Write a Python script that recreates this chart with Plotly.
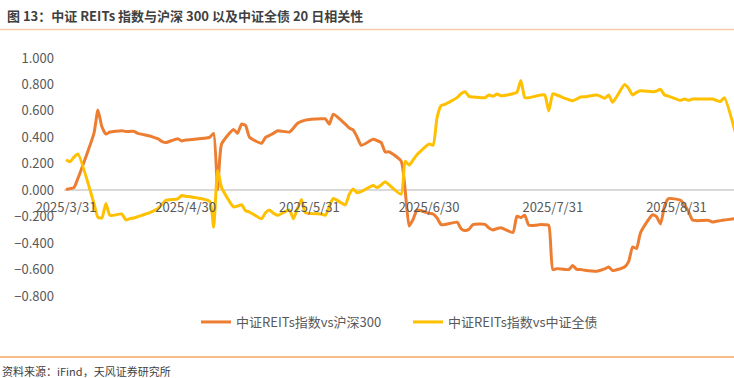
import plotly.graph_objects as go

dates = ["2025-03-31","2025-04-01","2025-04-02","2025-04-03","2025-04-07","2025-04-08","2025-04-09","2025-04-10","2025-04-11",
"2025-04-14","2025-04-15","2025-04-16","2025-04-17","2025-04-18","2025-04-21","2025-04-22","2025-04-23","2025-04-24","2025-04-25",
"2025-04-28","2025-04-29","2025-04-30","2025-05-06","2025-05-07","2025-05-08","2025-05-09",
"2025-05-12","2025-05-13","2025-05-14","2025-05-15","2025-05-16","2025-05-19","2025-05-20","2025-05-21","2025-05-22","2025-05-23",
"2025-05-26","2025-05-27","2025-05-28","2025-05-29","2025-05-30","2025-06-03","2025-06-04","2025-06-05","2025-06-06",
"2025-06-09","2025-06-10","2025-06-11","2025-06-12","2025-06-13","2025-06-16","2025-06-17","2025-06-18","2025-06-19","2025-06-20",
"2025-06-23","2025-06-24","2025-06-25","2025-06-26","2025-06-27","2025-06-30","2025-07-01","2025-07-02","2025-07-03","2025-07-04",
"2025-07-07","2025-07-08","2025-07-09","2025-07-10","2025-07-11","2025-07-14","2025-07-15","2025-07-16","2025-07-17","2025-07-18",
"2025-07-21","2025-07-22","2025-07-23","2025-07-24","2025-07-25","2025-07-28","2025-07-29","2025-07-30","2025-07-31","2025-08-01",
"2025-08-04","2025-08-05","2025-08-06","2025-08-07","2025-08-08","2025-08-11","2025-08-12","2025-08-13","2025-08-14","2025-08-15",
"2025-08-18","2025-08-19","2025-08-20","2025-08-21","2025-08-22","2025-08-25","2025-08-26","2025-08-27","2025-08-28","2025-08-29",
"2025-09-01","2025-09-02","2025-09-03","2025-09-04","2025-09-05","2025-09-08","2025-09-09","2025-09-10","2025-09-11","2025-09-12",
"2025-09-15"]

corr_hs300 = [0.005,0.012,0.02,0.09,0.43,0.606,0.48,0.425,0.44,
0.45,0.445,0.445,0.445,0.43,0.41,0.40,0.39,0.37,0.36,
0.39,0.373,0.38,0.40,0.43,0.005,0.35,
0.46,0.43,0.50,0.49,0.40,0.355,0.40,0.415,0.43,0.45,
0.44,0.47,0.505,0.52,0.53,0.54,0.54,0.50,0.575,
0.50,0.47,0.455,0.40,0.34,0.385,0.375,0.36,0.29,0.29,
0.22,0.0,-0.27,-0.22,-0.15,-0.175,-0.18,-0.21,-0.26,-0.26,
-0.242,-0.29,-0.305,-0.295,-0.26,-0.258,-0.285,-0.30,-0.29,-0.283,
-0.32,-0.197,-0.207,-0.19,-0.265,-0.26,-0.262,-0.265,-0.60,-0.593,
-0.60,-0.57,-0.598,-0.60,-0.605,-0.613,-0.605,-0.595,-0.58,-0.608,
-0.58,-0.54,-0.43,-0.44,-0.32,-0.185,-0.20,-0.255,-0.12,-0.063,
-0.076,-0.11,-0.16,-0.225,-0.23,-0.228,-0.24,-0.235,-0.23,-0.225,
-0.213]

corr_bond = [0.23,0.215,0.25,0.275,-0.10,-0.205,-0.21,-0.10,-0.19,
-0.18,-0.225,-0.215,-0.21,-0.20,-0.17,-0.155,-0.14,-0.11,-0.076,
-0.065,-0.04,-0.045,-0.085,-0.28,0.15,0.02,
-0.126,-0.12,-0.11,-0.155,-0.165,-0.215,-0.17,-0.15,-0.175,-0.19,
-0.15,-0.215,-0.14,-0.07,-0.17,-0.18,-0.19,-0.12,-0.063,
-0.11,-0.03,0.01,-0.02,-0.01,0.035,0.02,0.04,0.065,0.04,
-0.03,0.22,0.19,0.23,0.27,0.35,0.34,0.55,0.64,0.65,
0.70,0.73,0.745,0.71,0.705,0.70,0.72,0.71,0.727,0.714,
0.73,0.74,0.83,0.70,0.70,0.72,0.72,0.60,0.73,0.72,
0.685,0.677,0.69,0.705,0.707,0.72,0.71,0.695,0.72,0.665,
0.80,0.77,0.72,0.74,0.752,0.745,0.75,0.763,0.72,0.712,
0.68,0.69,0.68,0.69,0.69,0.69,0.69,0.68,0.67,0.70,
0.41]

series_names = ["中证REITs指数vs沪深300", "中证REITs指数vs中证全债"]
series_colors = ["#ED7D31", "#FFC000"]

x_tickvals = ["2025-03-31","2025-04-30","2025-05-31","2025-06-30","2025-07-31","2025-08-31"]
x_ticktext = ["2025/3/31","2025/4/30","2025/5/31","2025/6/30","2025/7/31","2025/8/31"]
y_tickvals = [-0.8,-0.6,-0.4,-0.2,0.0,0.2,0.4,0.6,0.8,1.0]

title_text = "图 13：中证 REITs 指数与沪深 300 以及中证全债 20 日相关性"
source_text = "资料来源：iFind，天风证券研究所"

FONT = "Noto Sans CJK SC, Noto Sans, sans-serif"

fig = go.Figure()
for vals, name, col in zip([corr_hs300, corr_bond], series_names, series_colors):
    fig.add_trace(go.Scatter(x=dates, y=vals, name=name, mode="lines",
                             line=dict(color=col, width=3, shape="spline", smoothing=0.5)))

W, H = 734, 378
L, R, T, B = 64, 0, 58, 82
pw, ph = W - L - R, H - T - B
def px(xp): return (xp - L) / pw
def py(yp): return (H - B - yp) / ph

fig.update_layout(
    width=W, height=H,
    margin=dict(l=L, r=R, t=T, b=B, autoexpand=False),
    paper_bgcolor="white", plot_bgcolor="white",
    font=dict(family=FONT, size=13, color="#595959"),
    showlegend=True,
    legend=dict(orientation="h", xref="container", yref="container",
                x=196/W, xanchor="left", y=1-322/H, yanchor="middle",
                font=dict(size=13, color="#595959"), itemwidth=30,
                entrywidth=167, entrywidthmode="pixels",
                bgcolor="rgba(0,0,0,0)"),
    xaxis=dict(type="date", range=["2025-03-30 12:00", "2025-09-14 10:00"],
               tickvals=x_tickvals, ticktext=x_ticktext,
               anchor="free", position=0.8/1.8, showgrid=False, showline=False,
               zeroline=False, ticks="", tickfont=dict(size=13, color="#595959"),
               ticklabelstandoff=8),
    yaxis=dict(range=[-0.8, 1.0], tickvals=y_tickvals, tickformat=".3f",
               showgrid=False, zeroline=True, zerolinecolor="#D9D9D9", zerolinewidth=1.5,
               showline=False, ticks="", tickfont=dict(size=13, color="#595959"),
               ticklabelstandoff=9),
)

fig.add_shape(type="line", xref="paper", yref="paper", x0=px(0), x1=px(W), y0=py(29.5), y1=py(29.5),
              line=dict(color="#F8CBAD", width=1.5))
fig.add_shape(type="line", xref="paper", yref="paper", x0=px(0), x1=px(W), y0=py(357), y1=py(357),
              line=dict(color="#F4A460", width=1.5))
fig.add_annotation(text=title_text, xref="paper", yref="paper", x=px(5), y=py(16),
                   xanchor="left", yanchor="middle", showarrow=False,
                   font=dict(family=FONT, size=13, color="#3F3F3F", weight="bold"))
fig.add_annotation(text=source_text, xref="paper", yref="paper", x=px(0), y=py(371),
                   xanchor="left", yanchor="middle", showarrow=False,
                   font=dict(family=FONT, size=11, color="#404040"))

fig.write_html("out.html", config={"displayModeBar": False},
               post_script="document.body.style.margin='0';document.body.style.overflow='hidden';")
